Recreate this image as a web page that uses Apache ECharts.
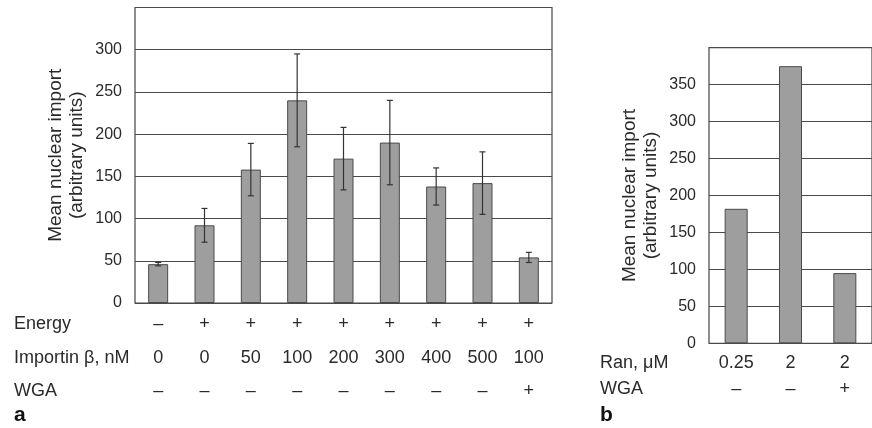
<!DOCTYPE html>
<html>
<head>
<meta charset="utf-8">
<script src="https://cdn.jsdelivr.net/npm/echarts@6/dist/echarts.min.js"></script>
<style>
html, body { margin: 0; padding: 0; background: #fff; }
#chart { width: 872px; height: 428px; }
</style>
</head>
<body>
<div id="chart"></div>
<script>
// panel a
var energy = ['–', '+', '+', '+', '+', '+', '+', '+', '+'];
var importin = ['0', '0', '50', '100', '200', '300', '400', '500', '100'];
var wgaA = ['–', '–', '–', '–', '–', '–', '–', '–', '+'];
var meansA = [46, 92, 158, 240, 171, 190, 138, 142, 54];
var errA = [2, 20, 31, 55, 37, 50, 22, 37, 6];
// panel b
var ran = ['0.25', '2', '2'];
var wgaB = ['–', '–', '+'];
var meansB = [182, 375, 95];

var font = '"Liberation Sans", Arial, sans-serif';
var txt = '#2a2a2a';

var myChart = echarts.init(document.getElementById('chart'));

function rowAxis(grid, data, offset, margin) {
  return {
    gridIndex: grid,
    type: 'category',
    data: data,
    position: 'bottom',
    offset: offset,
    axisLine: { show: false },
    axisTick: { show: false },
    splitLine: { show: false },
    axisLabel: { margin: margin, fontSize: 18, color: txt, fontFamily: font, interval: 0 }
  };
}

function valAxis(grid, max) {
  return {
    gridIndex: grid,
    type: 'value',
    min: 0,
    max: max,
    interval: 50,
    name: 'Mean nuclear import\n(arbitrary units)',
    nameLocation: 'middle',
    nameRotate: 90,
    nameGap: 48,
    nameTextStyle: { fontSize: 19, color: txt, fontFamily: font, lineHeight: 21 },
    axisLine: { show: false },
    axisTick: { show: false },
    axisLabel: {
      fontSize: 16, color: txt, fontFamily: font, margin: 13,
      formatter: function (v) { return v === max ? '' : v; }
    },
    splitLine: { lineStyle: { color: '#4a4a4a', width: 1.2 } }
  };
}

var option = {
  backgroundColor: '#fff',
  animation: false,
  grid: [
    { left: 135, top: 7.5, width: 417, height: 295.5, show: true, borderColor: '#444', borderWidth: 1.2 },
    { left: 709, top: 47.7, width: 170, height: 295.6, show: true, borderColor: '#444', borderWidth: 1.2 }
  ],
  xAxis: [
    rowAxis(0, energy, 0, 12),
    rowAxis(0, importin, 34, 12),
    rowAxis(0, wgaA, 67, 12),
    rowAxis(1, ran, 0, 11),
    rowAxis(1, wgaB, 26, 11)
  ],
  yAxis: [valAxis(0, 350), valAxis(1, 400)],
  graphic: [
    { type: 'text', x: 14, y: 324, style: { text: 'Energy', fill: txt, font: '18px ' + font, verticalAlign: 'middle' } },
    { type: 'text', x: 14, y: 358, style: { text: 'Importin β, nM', fill: txt, font: '18px ' + font, verticalAlign: 'middle' } },
    { type: 'text', x: 14, y: 391, style: { text: 'WGA', fill: txt, font: '18px ' + font, verticalAlign: 'middle' } },
    { type: 'text', x: 14, y: 415, style: { text: 'a', fill: '#111', font: 'bold 21px ' + font, verticalAlign: 'middle' } },
    { type: 'text', x: 600, y: 363, style: { text: 'Ran, μM', fill: txt, font: '18px ' + font, verticalAlign: 'middle' } },
    { type: 'text', x: 600, y: 389, style: { text: 'WGA', fill: txt, font: '18px ' + font, verticalAlign: 'middle' } },
    { type: 'text', x: 600, y: 415, style: { text: 'b', fill: '#111', font: 'bold 21px ' + font, verticalAlign: 'middle' } }
  ],
  series: [
    {
      type: 'bar',
      xAxisIndex: 0,
      yAxisIndex: 0,
      barWidth: 20,
      data: meansA,
      itemStyle: { color: '#9e9e9e', borderColor: '#4a4a4a', borderWidth: 1 }
    },
    {
      type: 'custom',
      xAxisIndex: 0,
      yAxisIndex: 0,
      z: 10,
      data: meansA.map(function (m, i) { return [i, m - errA[i], m + errA[i]]; }),
      renderItem: function (params, api) {
        var lo = api.coord([api.value(0), api.value(1)]);
        var hi = api.coord([api.value(0), api.value(2)]);
        var w = 3;
        var st = { stroke: '#333', lineWidth: 1.2 };
        return {
          type: 'group',
          children: [
            { type: 'line', shape: { x1: hi[0], y1: hi[1], x2: lo[0], y2: lo[1] }, style: st },
            { type: 'line', shape: { x1: hi[0] - w, y1: hi[1], x2: hi[0] + w, y2: hi[1] }, style: st },
            { type: 'line', shape: { x1: lo[0] - w, y1: lo[1], x2: lo[0] + w, y2: lo[1] }, style: st }
          ]
        };
      }
    },
    {
      type: 'bar',
      xAxisIndex: 3,
      yAxisIndex: 1,
      barWidth: 23,
      data: meansB,
      itemStyle: { color: '#9e9e9e', borderColor: '#4a4a4a', borderWidth: 1 }
    }
  ]
};
myChart.setOption(option);
</script>
</body>
</html>
